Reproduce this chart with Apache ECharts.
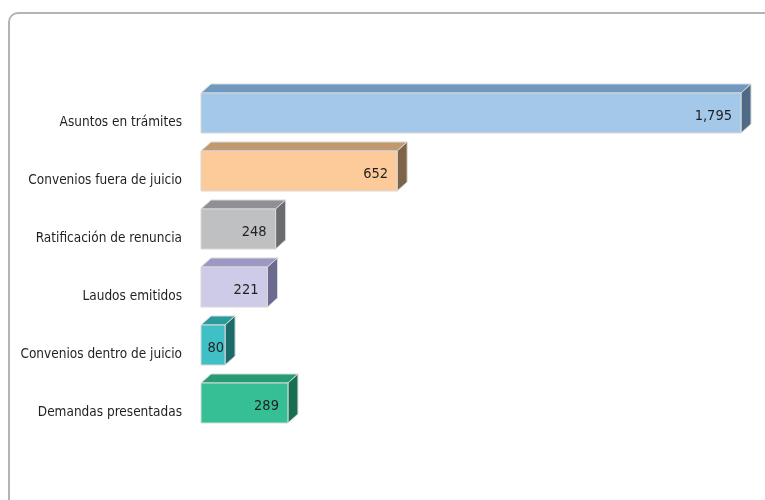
<!DOCTYPE html>
<html>
<head>
<meta charset="utf-8">
<script src="https://cdn.jsdelivr.net/npm/echarts@6/dist/echarts.min.js"></script>
<style>
  html, body { margin: 0; padding: 0; background: #fff; }
  #main { width: 765px; height: 500px; }
</style>
</head>
<body>
<div id="main"></div>
<script>
// categories, top to bottom
var categories = [
  'Asuntos en trámites',
  'Convenios fuera de juicio',
  'Ratificación de renuncia',
  'Laudos emitidos',
  'Convenios dentro de juicio',
  'Demandas presentadas'
];
var values = [1795, 652, 248, 221, 80, 289];

// front / top / side colours per bar
var frontColors = ['#a3c8ea', '#fdcb99', '#bfc0c2', '#cdcbe8', '#3fc0c6', '#36bf94'];
var topColors = ['#7199c0', '#c0996f', '#8f9094', '#9b98c3', '#2a9b9c', '#269c72'];
var sideColors = ['#4f6a86', '#7d6347', '#6b6c70', '#6d6a90', '#1b6b6a', '#166f50'];

var FONT = '"Liberation Sans Narrow", "DejaVu Sans Condensed", sans-serif';

var chart = echarts.init(document.getElementById('main'), null, { renderer: 'canvas' });

function renderBox(params, api) {
  var i = api.value(1);
  var p0 = api.coord([0, i]);
  var p1 = api.coord([api.value(0), i]);
  var h = 40, dx = 10, dy = 9;
  var x = p0[0], w = p1[0] - p0[0];
  var y = p0[1] - 9 - h / 2; // bar sits a little above the label line
  var txtRight = Math.max(x + w - 9, x + 23);
  return {
    type: 'group',
    children: [
      {
        type: 'polygon',
        shape: { points: [[x, y], [x + dx, y - dy], [x + w + dx, y - dy], [x + w, y]] },
        style: { fill: topColors[i], stroke: '#d8d8d8', lineWidth: 1 }
      },
      {
        type: 'polygon',
        shape: { points: [[x + w, y], [x + w + dx, y - dy], [x + w + dx, y + h - dy], [x + w, y + h]] },
        style: { fill: sideColors[i], stroke: '#d8d8d8', lineWidth: 1 }
      },
      {
        type: 'rect',
        shape: { x: x, y: y, width: w, height: h },
        style: { fill: frontColors[i], stroke: '#d8d8d8', lineWidth: 1 }
      },
      {
        type: 'text',
        x: txtRight,
        y: y + h / 2 + 3,
        style: {
          text: echarts.format.addCommas(api.value(0)),
          textAlign: 'right',
          textVerticalAlign: 'middle',
          fill: '#231f20',
          font: '14.5px ' + FONT
        }
      }
    ]
  };
}

var option = {
  backgroundColor: '#fff',
  animation: false,
  graphic: [{
    type: 'rect',
    shape: { x: 9, y: 13, width: 820, height: 600, r: 9 },
    style: { fill: 'none', stroke: '#b4b4b4', lineWidth: 2 }
  }],
  grid: { left: 201, right: 24, top: 93, bottom: 59 },
  xAxis: {
    type: 'value',
    min: 0,
    max: 1795,
    show: false
  },
  yAxis: {
    type: 'category',
    inverse: true,
    data: categories,
    axisLine: { show: false },
    axisTick: { show: false },
    axisLabel: {
      margin: 19,
      color: '#231f20',
      fontSize: 13.5,
      fontFamily: FONT
    }
  },
  series: [{
    type: 'custom',
    renderItem: renderBox,
    data: values.map(function (v, i) { return [v, i]; }),
    encode: { x: 0, y: 1 }
  }]
};

chart.setOption(option);
</script>
</body>
</html>
